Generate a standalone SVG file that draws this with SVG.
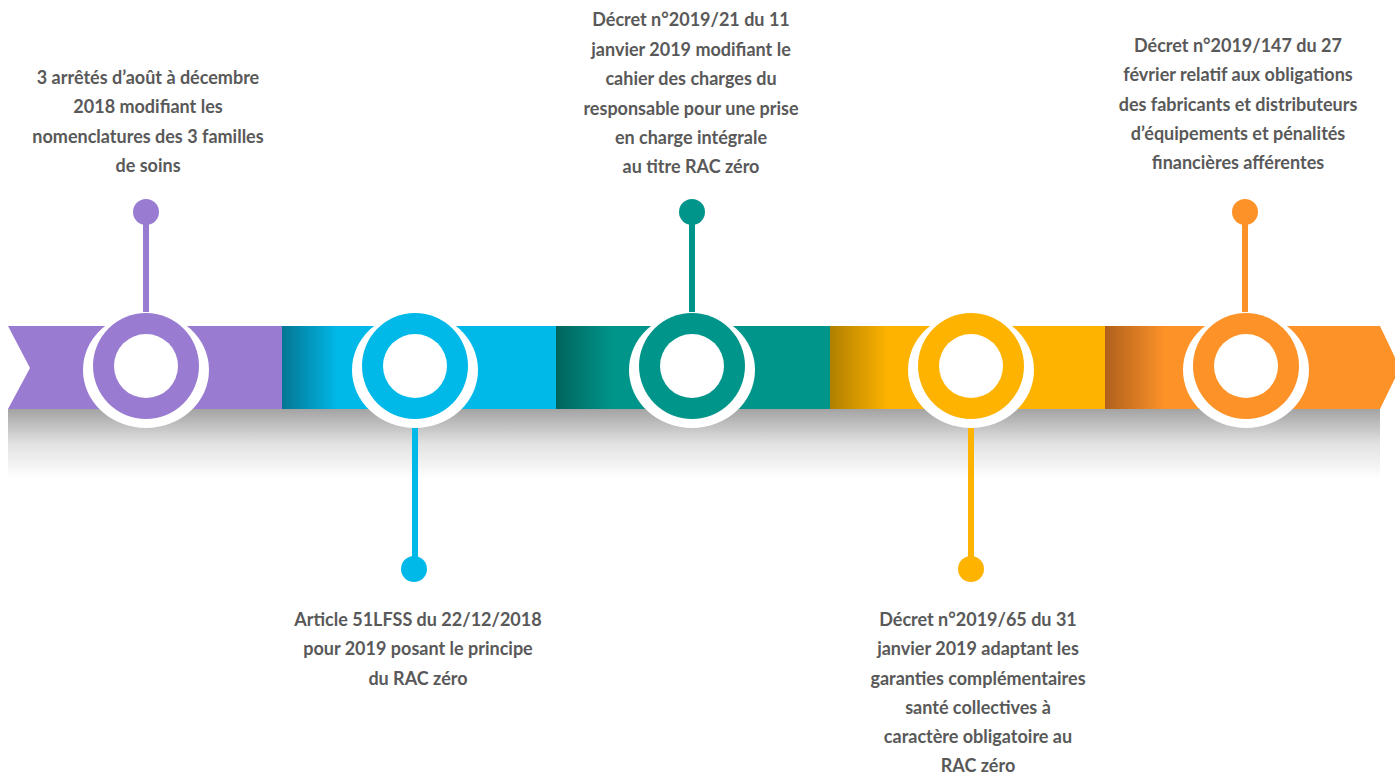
<svg xmlns="http://www.w3.org/2000/svg" width="1395" height="774" viewBox="0 0 1395 774">
<defs>
<linearGradient id="shadow" x1="0" y1="0" x2="0" y2="1">
<stop offset="0" stop-color="#a3a3a3"/>
<stop offset="0.5" stop-color="#e2e2e2"/>
<stop offset="1" stop-color="#ffffff"/>
</linearGradient>
<linearGradient id="gBlue" gradientUnits="userSpaceOnUse" x1="282" y1="0" x2="338" y2="0">
<stop offset="0" stop-color="#057593"/>
<stop offset="1" stop-color="#00b9e8"/>
</linearGradient>
<linearGradient id="gTeal" gradientUnits="userSpaceOnUse" x1="556" y1="0" x2="612" y2="0">
<stop offset="0" stop-color="#00645c"/>
<stop offset="1" stop-color="#00958a"/>
</linearGradient>
<linearGradient id="gYellow" gradientUnits="userSpaceOnUse" x1="830" y1="0" x2="888" y2="0">
<stop offset="0" stop-color="#b07f00"/>
<stop offset="1" stop-color="#fdb300"/>
</linearGradient>
<linearGradient id="gOrange" gradientUnits="userSpaceOnUse" x1="1105" y1="0" x2="1165" y2="0">
<stop offset="0" stop-color="#b0601c"/>
<stop offset="1" stop-color="#fd9228"/>
</linearGradient>
</defs>
<style>
.t{font-family:Lato,"Open Sans","Liberation Sans",sans-serif;font-weight:700;font-size:18px;fill:#595959;text-anchor:middle}
.halo{fill:#ffffff}
.hole{fill:#ffffff}
.purple{fill:#997cd1}
.blue{fill:#00b9e8}
.teal{fill:#00958a}
.yellow{fill:#fdb300}
.orange{fill:#fd9228}
.sp{stroke:#997cd1}.sb{stroke:#00b9e8}.st{stroke:#00958a}.sy{stroke:#fdb300}.so{stroke:#fd9228}
.stem{stroke-width:6;fill:none}
</style>
<rect width="1395" height="774" fill="#ffffff"/>
<g id="band">
<rect x="8" y="409" width="1372" height="70" fill="url(#shadow)"/>
<polygon points="8,326 282,326 282,409 8,409 30,368" class="purple"/>
<rect x="282" y="326" width="274" height="83" fill="url(#gBlue)"/>
<rect x="556" y="326" width="274" height="83" fill="url(#gTeal)"/>
<rect x="830" y="326" width="275" height="83" fill="url(#gYellow)"/>
<polygon points="1105,326 1380,326 1400,368 1380,409 1105,409" fill="url(#gOrange)"/>
</g>
<g id="connectors">
<line x1="146" y1="212" x2="146" y2="316" class="stem sp"/>
<line x1="415" y1="416" x2="415" y2="569" class="stem sb"/>
<line x1="692" y1="212" x2="692" y2="316" class="stem st"/>
<line x1="971" y1="416" x2="971" y2="569" class="stem sy"/>
<line x1="1245" y1="212" x2="1245" y2="316" class="stem so"/>
</g>
<g id="node1">
<ellipse cx="146" cy="370" rx="63" ry="58" class="halo"/>
<circle cx="146" cy="366" r="53" class="purple"/>
<circle cx="146" cy="366" r="32" class="hole"/>
<circle cx="146" cy="212" r="13" class="purple"/>
<text class="t"><tspan x="148" y="84">3 arrêtés d’août à décembre</tspan><tspan x="148" y="113">2018 modifiant les</tspan><tspan x="148" y="143">nomenclatures des 3 familles</tspan><tspan x="148" y="172">de soins</tspan></text>
</g>
<g id="node2">
<ellipse cx="415" cy="370" rx="63" ry="58" class="halo"/>
<circle cx="415" cy="366" r="53" class="blue"/>
<circle cx="415" cy="366" r="32" class="hole"/>
<circle cx="414" cy="569" r="13" class="blue"/>
<text class="t"><tspan x="418" y="626">Article 51LFSS du 22/12/2018</tspan><tspan x="418" y="655">pour 2019 posant le principe</tspan><tspan x="418" y="685">du RAC zéro</tspan></text>
</g>
<g id="node3">
<ellipse cx="692" cy="370" rx="63" ry="58" class="halo"/>
<circle cx="692" cy="366" r="53" class="teal"/>
<circle cx="692" cy="366" r="32" class="hole"/>
<circle cx="692" cy="212" r="13" class="teal"/>
<text class="t"><tspan x="691" y="26">Décret n°2019/21 du 11</tspan><tspan x="691" y="56">janvier 2019 modifiant le</tspan><tspan x="691" y="85">cahier des charges du</tspan><tspan x="691" y="115">responsable pour une prise</tspan><tspan x="691" y="144">en charge intégrale</tspan><tspan x="691" y="173">au titre RAC zéro</tspan></text>
</g>
<g id="node4">
<ellipse cx="971" cy="370" rx="63" ry="58" class="halo"/>
<circle cx="971" cy="366" r="53" class="yellow"/>
<circle cx="971" cy="366" r="32" class="hole"/>
<circle cx="971" cy="569" r="13" class="yellow"/>
<text class="t"><tspan x="978" y="626">Décret n°2019/65 du 31</tspan><tspan x="978" y="655">janvier 2019 adaptant les</tspan><tspan x="978" y="685">garanties complémentaires</tspan><tspan x="978" y="714">santé collectives à</tspan><tspan x="978" y="743">caractère obligatoire au</tspan><tspan x="978" y="772">RAC zéro</tspan></text>
</g>
<g id="node5">
<ellipse cx="1246" cy="370" rx="63" ry="58" class="halo"/>
<circle cx="1246" cy="366" r="53" class="orange"/>
<circle cx="1246" cy="366" r="32" class="hole"/>
<circle cx="1245" cy="212" r="13" class="orange"/>
<text class="t"><tspan x="1238" y="52">Décret n°2019/147 du 27</tspan><tspan x="1238" y="81">février relatif aux obligations</tspan><tspan x="1238" y="111">des fabricants et distributeurs</tspan><tspan x="1238" y="140">d’équipements et pénalités</tspan><tspan x="1238" y="169">financières afférentes</tspan></text>
</g>
</svg>
